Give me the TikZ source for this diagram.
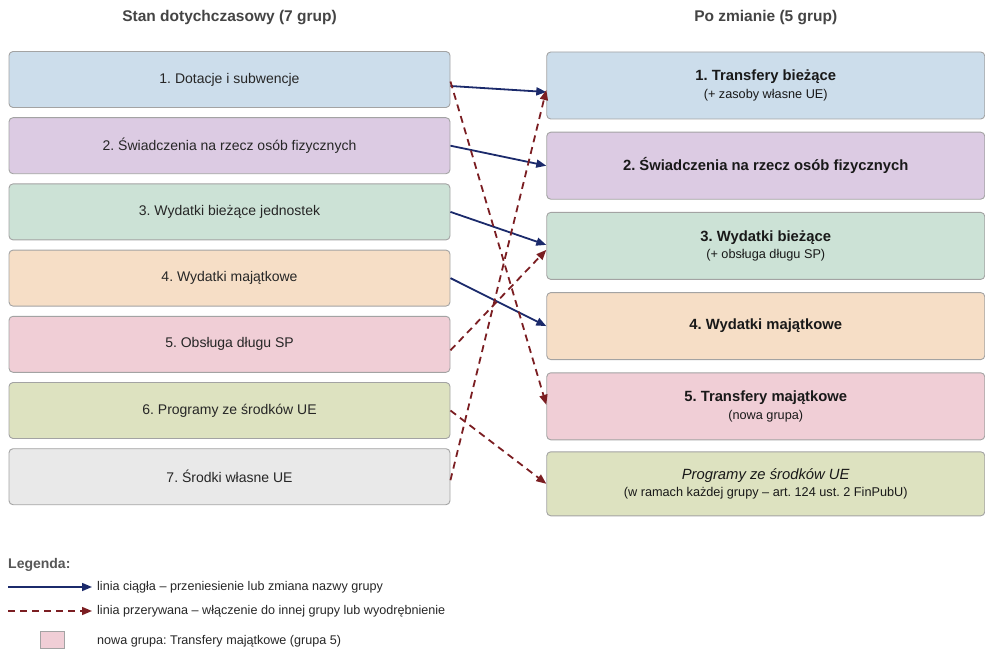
\documentclass[tikz,border=0pt]{standalone}
\usepackage{fontspec}
\setmainfont{Liberation Sans}
\usepackage{xcolor}
\usetikzlibrary{arrows.meta, positioning}
\frenchspacing

\definecolor{boxline}{HTML}{A3A3A3}
\definecolor{cBlue}{HTML}{CCDDEB}
\definecolor{cPurple}{HTML}{DCCBE3}
\definecolor{cGreen}{HTML}{CCE2D6}
\definecolor{cOrange}{HTML}{F6DEC6}
\definecolor{cPink}{HTML}{F0CED6}
\definecolor{cOlive}{HTML}{DDE2C0}
\definecolor{cGray}{HTML}{E9E9E9}
\definecolor{navyline}{HTML}{1B2A6B}
\definecolor{redline}{HTML}{7B1E22}
\definecolor{headgray}{HTML}{444444}

\begin{document}
\begin{tikzpicture}[
        x=1pt, y=-1pt,
        oldgroup/.style={
            rectangle,
            draw=boxline,
            line width=0.9pt,
            rounded corners=4pt,
            minimum width=441pt,
            minimum height=56pt,
            inner sep=0pt,
            align=center,
            text=black!85,
            font=\fontsize{14}{17}\selectfont
        },
        newgroup/.style={
            rectangle,
            draw=boxline,
            line width=0.9pt,
            rounded corners=4pt,
            minimum width=438pt,
            minimum height=67pt,
            inner sep=0pt,
            align=center,
            text=black!90,
            font=\fontsize{14.8}{17}\selectfont
        },
        heading/.style={
            font=\bfseries\fontsize{15.5}{18}\selectfont,
            text=headgray
        },
        legtext/.style={
            anchor=west,
            inner sep=0pt,
            font=\fontsize{12.6}{15}\selectfont,
            text=black!85
        },
        move/.style={
            draw=navyline,
            line width=1.8pt,
            -{Triangle[length=10pt,width=8pt]}
        },
        merge/.style={
            draw=redline,
            line width=1.8pt,
            dash pattern=on 7pt off 5pt,
            -{Triangle[length=10pt,width=8pt]}
        }
    ]
        \useasboundingbox (0,0) rectangle (985,650);

        % Headings
        \node [heading] (headold) at (229.5,18) {Stan dotychczasowy (7 grup)};
        \node [heading] (headnew) at (765.75,18) {Po zmianie (5 grup)};

        % Nodes: current state
        \node [oldgroup, fill=cBlue] (old1) at (229.5,79.5) {1. Dotacje i subwencje};
        \node [oldgroup, fill=cPurple, below=9.3pt of old1] (old2) {2. Świadczenia na rzecz osób fizycznych};
        \node [oldgroup, fill=cGreen, below=9.3pt of old2] (old3) {3. Wydatki bieżące jednostek};
        \node [oldgroup, fill=cOrange, below=9.3pt of old3] (old4) {4. Wydatki majątkowe};
        \node [oldgroup, fill=cPink, below=9.3pt of old4] (old5) {5. Obsługa długu SP};
        \node [oldgroup, fill=cOlive, below=9.3pt of old5] (old6) {6. Programy ze środków UE};
        \node [oldgroup, fill=cGray, below=9.3pt of old6] (old7) {7. Środki własne UE};

        % Nodes: after the change
        \node [newgroup, fill=cBlue] (new1) at (765.75,85.5) {\textbf{1. Transfery bieżące}\\[0.5pt]{\fontsize{12.7}{15}\selectfont (+ zasoby własne UE)}};
        \node [newgroup, fill=cPurple, below=12.3pt of new1] (new2) {\textbf{2. Świadczenia na rzecz osób fizycznych}};
        \node [newgroup, fill=cGreen, below=12.3pt of new2] (new3) {\textbf{3. Wydatki bieżące}\\[0.5pt]{\fontsize{12.7}{15}\selectfont (+ obsługa długu SP)}};
        \node [newgroup, fill=cOrange, below=12.3pt of new3] (new4) {\textbf{4. Wydatki majątkowe}};
        \node [newgroup, fill=cPink, below=12.3pt of new4] (new5) {\textbf{5. Transfery majątkowe}\\[0.5pt]{\fontsize{12.7}{15}\selectfont (nowa grupa)}};
        \node [newgroup, fill=cOlive, minimum height=64pt, below=11.1pt of new5] (new6) {\textit{Programy ze środków UE}\\[0.5pt]{\fontsize{12.7}{15}\selectfont (w ramach każdej grupy – art. 124 ust. 2 FinPubU)}};

        % Edges
        \draw [move] ([yshift=-6.5pt]old1.east) -- ([yshift=-6.5pt]new1.west);
        \draw [move] (old2.east) -- (new2.west);
        \draw [move] (old3.east) -- ([yshift=1pt]new3.west);
        \draw [move] (old4.east) -- (new4.west);
        \draw [merge] ([yshift=-2pt]old1.east) -- ([yshift=1.5pt]new5.west);
        \draw [merge] ([yshift=-6pt]old5.east) -- ([yshift=-4pt]new3.west);
        \draw [merge] ([yshift=-3.5pt]old7.east) -- ([yshift=-4.5pt]new1.west);
        \draw [merge] (old6.east) -- (new6.west);

        % Legend
        \node [anchor=west, inner sep=0pt, font=\bfseries\fontsize{14}{16}\selectfont, text=headgray!90] (legend) at (8,565) {Legenda:};
        \coordinate (solidA) at (8,587);
        \coordinate (solidB) at (92,587);
        \draw [move, line width=1.5pt] (solidA) -- (solidB);
        \node [legtext] (solidtxt) at (97,587) {linia ciągła – przeniesienie lub zmiana nazwy grupy};
        \coordinate (dashA) at (8,611);
        \coordinate (dashB) at (92,611);
        \draw [merge, line width=1.5pt] (dashA) -- (dashB);
        \node [legtext] (dashtxt) at (97,611) {linia przerywana – włączenie do innej grupy lub wyodrębnienie};
        \node [rectangle, draw=boxline, line width=0.8pt, fill=cPink, minimum width=24pt, minimum height=17pt, inner sep=0pt] (pinkkey) at (52,639.5) {};
        \node [legtext] (pinktxt) at (97,641) {nowa grupa: Transfery majątkowe (grupa 5)};

    \end{tikzpicture}
\end{document}
